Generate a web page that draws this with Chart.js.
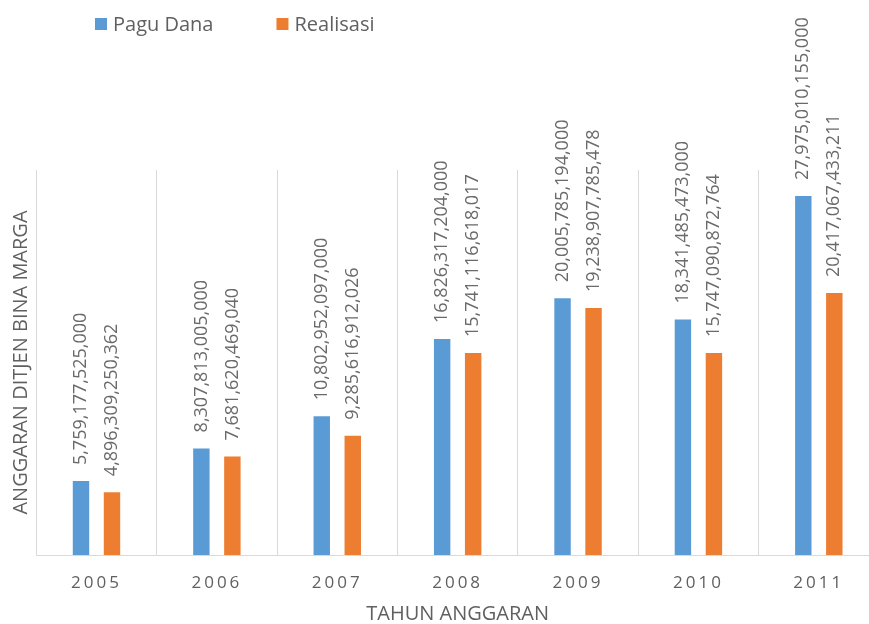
<!DOCTYPE html>
<html>
<head>
<meta charset="utf-8">
<script src="https://cdn.jsdelivr.net/npm/chart.js@4.4.0/dist/chart.umd.min.js"></script>
<style>
    html, body { margin: 0; padding: 0; background: #fff; overflow: hidden; }
    #wrap { width: 880px; height: 624px; }
</style>
</head>
<body>
<div id="wrap"><canvas id="chart1" width="880" height="624"></canvas></div>
<script>
const years = ['2005', '2006', '2007', '2008', '2009', '2010', '2011'];
const paguDana = [5759177525000, 8307813005000, 10802952097000, 16826317204000, 20005785194000, 18341485473000, 27975010155000];
const realisasi = [4896309250362, 7681620469040, 9285616912026, 15741116618017, 19238907785478, 15747090872764, 20417067433211];
const yMax = 30000000000000;

const textColor = '#606060';
const gridColor = '#d9d9d9';
const fontFamily = '"Open Sans", sans-serif';

// category axis that draws its labels with some letter spacing
class SpacedCategoryScale extends Chart.CategoryScale {
    drawLabels(chartArea) {
        const ctx = this.ctx;
        ctx.save();
        ctx.letterSpacing = '3px';
        super.drawLabels(chartArea);
        ctx.restore();
    }
}
SpacedCategoryScale.id = 'spacedCategory';
SpacedCategoryScale.defaults = {};
Chart.register(SpacedCategoryScale);

// values written vertically above every bar
const barValueLabels = {
    id: 'barValueLabels',
    afterDatasetsDraw(chart) {
        const ctx = chart.ctx;
        ctx.save();
        ctx.font = '18px ' + fontFamily;
        ctx.fillStyle = '#6a6a6a';
        ctx.textAlign = 'left';
        ctx.textBaseline = 'middle';
        chart.data.datasets.forEach((ds, i) => {
            chart.getDatasetMeta(i).data.forEach((bar, j) => {
                ctx.save();
                ctx.translate(bar.x, bar.y - 16);
                ctx.rotate(-Math.PI / 2);
                ctx.fillText(ds.data[j].toLocaleString('en-US'), 0, 0);
                ctx.restore();
            });
        });
        ctx.restore();
    }
};

// legend placed at the top left like the original
const topLegend = {
    id: 'topLegend',
    afterDraw(chart) {
        const ctx = chart.ctx;
        ctx.save();
        ctx.font = '20px ' + fontFamily;
        ctx.textAlign = 'left';
        ctx.textBaseline = 'middle';
        let x = 95;
        const y = 24;
        chart.data.datasets.forEach(ds => {
            ctx.fillStyle = ds.backgroundColor;
            ctx.fillRect(x, y - 6, 12, 12);
            ctx.fillStyle = textColor;
            ctx.fillText(ds.label, x + 18, y + 1);
            x += 18 + ctx.measureText(ds.label).width + 63;
        });
        ctx.restore();
    }
};

const ctx = document.getElementById('chart1');
new Chart(ctx, {
    type: 'bar',
    data: {
        labels: years,
        datasets: [{
            label: 'Pagu Dana',
            data: paguDana,
            backgroundColor: '#5b9bd5',
            categoryPercentage: 0.515,
            barPercentage: 0.53
        }, {
            label: 'Realisasi',
            data: realisasi,
            backgroundColor: '#ed7d31',
            categoryPercentage: 0.515,
            barPercentage: 0.53
        }]
    },
    options: {
        responsive: false,
        animation: false,
        layout: {
            padding: { top: 170, right: 1, bottom: 0, left: 0 }
        },
        plugins: {
            legend: { display: false },
            tooltip: { enabled: false }
        },
        scales: {
            x: {
                type: 'spacedCategory',
                offset: true,
                grid: {
                    offset: true,
                    color: gridColor,
                    drawTicks: false
                },
                border: { color: gridColor },
                ticks: {
                    color: textColor,
                    padding: 20,
                    font: { family: fontFamily, size: 17, lineHeight: 1 }
                },
                title: {
                    display: true,
                    text: 'TAHUN ANGGARAN',
                    color: textColor,
                    padding: { top: -8, bottom: 0 },
                    font: { family: fontFamily, size: 20, lineHeight: 1 }
                }
            },
            y: {
                min: 0,
                max: yMax,
                grid: { display: false, drawTicks: false },
                border: { display: false },
                ticks: { display: false },
                title: {
                    display: true,
                    text: 'ANGGARAN DITJEN BINA MARGA',
                    color: textColor,
                    padding: { top: 9, bottom: 3.3 },
                    font: { family: fontFamily, size: 20 }
                }
            }
        }
    },
    plugins: [barValueLabels, topLegend]
});
</script>
</body>
</html>
